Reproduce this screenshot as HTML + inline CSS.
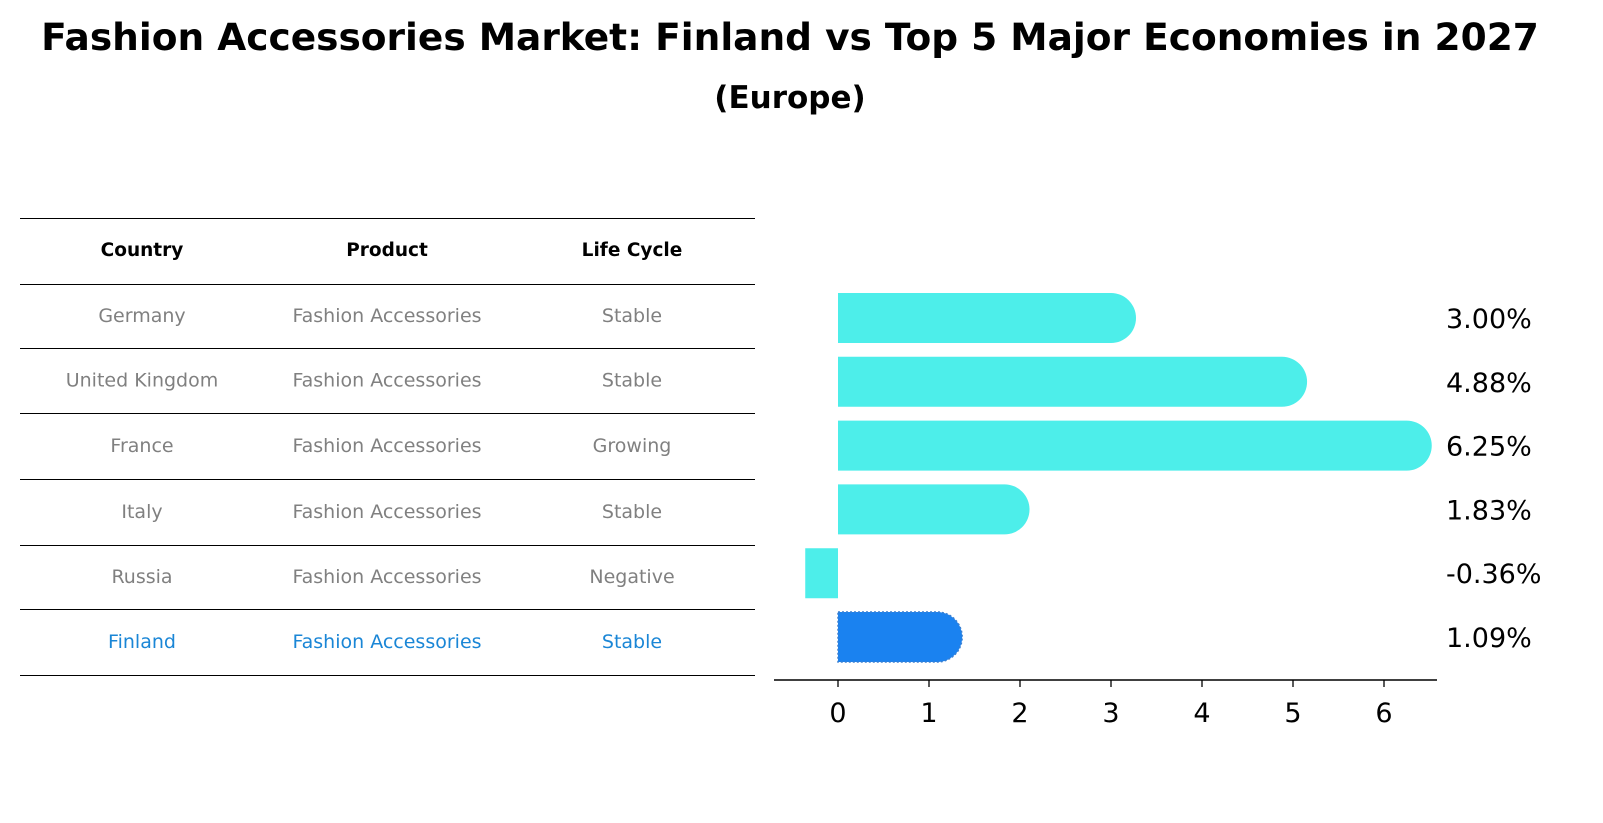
<!DOCTYPE html>
<html><head><meta charset="utf-8"><style>
body{margin:0;background:#fff;}
svg{display:block;font-family:"DejaVu Sans","Liberation Sans",sans-serif;}
</style></head><body>
<svg id="s" width="1603" height="823" xmlns="http://www.w3.org/2000/svg">
<text x="790" y="50" text-anchor="middle" font-size="37.5" font-weight="bold">Fashion Accessories Market: Finland vs Top 5 Major Economies in 2027</text>
<text x="790" y="108" text-anchor="middle" font-size="31" font-weight="bold">(Europe)</text>
<g id="tbl"></g>
<g id="plot"></g>
</svg>
<script>
const countries=["Germany","United Kingdom","France","Italy","Russia","Finland"];
const products=["Fashion Accessories","Fashion Accessories","Fashion Accessories","Fashion Accessories","Fashion Accessories","Fashion Accessories"];
const lifecycles=["Stable","Stable","Growing","Stable","Negative","Stable"];
const values=[3.00,4.88,6.25,1.83,-0.36,1.09];
const xTicks=[0,1,2,3,4,5,6];
const NS="http://www.w3.org/2000/svg";
function mk(tag,attrs,parent,txt){const e=document.createElementNS(NS,tag);for(const k in attrs)e.setAttribute(k,attrs[k]);if(txt!==undefined)e.textContent=txt;parent.appendChild(e);return e;}
const tbl=document.getElementById('tbl');
const lineY=[218,284,348,413,479,545,609,675];
lineY.forEach((y,i)=>{const l=mk('line',{x1:20,x2:755,y1:y+0.5,y2:y+0.5,stroke:'#000','stroke-width':1,'shape-rendering':'crispEdges'},tbl);

});
const colX=[142,387,632];
["Country","Product","Life Cycle"].forEach((h,i)=>{const t=mk('text',{x:colX[i],y:256,'text-anchor':'middle','font-size':18.5,'font-weight':'bold'},tbl,h);

});
countries.forEach((c,i)=>{const y=(lineY[i+1]+lineY[i+2])/2+6;const col=c==="Finland"?'#1a86d6':'#808080';
[c,products[i],lifecycles[i]].forEach((v,j)=>{const t=mk('text',{x:colX[j],y:y,'text-anchor':'middle','font-size':19,fill:col},tbl,v);

});});
const plot=document.getElementById('plot');
const x0=838,unit=91.0;
const xs=v=>x0+v*unit;
const yc=i=>318+i*63.8;
const bh=50,r=25;
values.forEach((v,i)=>{const fin=countries[i]==="Finland";const col=fin?'#1a82f0':'#4deeea';
const cy=yc(i),top=cy-bh/2;let d;
if(v>=0){const xe=xs(v);d=`M${x0},${top} H${xe} A${r},${r} 0 0 1 ${xe},${top+bh} H${x0} Z`;}
else{d=`M${xs(v)},${top} H${x0} V${top+bh} H${xs(v)} Z`;}
const p=mk('path',{d:d,fill:col},plot);
if(fin){p.setAttribute('stroke','#3a7fd0');p.setAttribute('stroke-dasharray','2,2');p.setAttribute('stroke-width','1.5');}


const t=mk('text',{x:1446,y:cy+10,'font-size':27},plot,v.toFixed(2)+'%');

});
const ax=mk('line',{x1:774,x2:1437,y1:680,y2:680,stroke:'#000','stroke-width':1.5},plot);


xTicks.forEach(v=>{mk('line',{x1:xs(v),x2:xs(v),y1:680,y2:687,stroke:'#000','stroke-width':1.3},plot);
const t=mk('text',{x:xs(v),y:722,'text-anchor':'middle','font-size':27},plot,String(v));

});
</script>
</body></html>
